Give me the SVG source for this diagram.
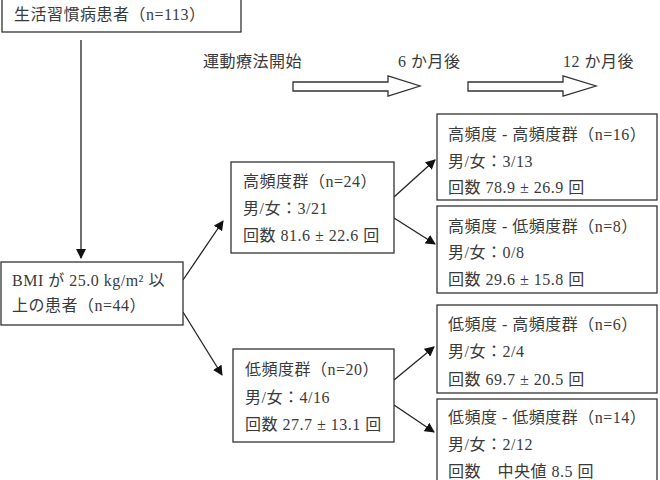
<svg xmlns="http://www.w3.org/2000/svg" width="660" height="480" viewBox="0 0 660 480">
<style>
.box{fill:#fff;stroke:#333;stroke-width:1.3}
.t{font-family:"Liberation Serif","Noto Sans CJK JP",serif;font-size:16px;letter-spacing:0.5px;fill:#3a3a3a}
.c{stroke:#222;stroke-width:1.3;fill:none}
.h{fill:#fff;stroke:#333;stroke-width:1.3}
</style>
<defs>
<marker id="ah" viewBox="0 0 10 10" refX="9" refY="5" markerWidth="10" markerHeight="10" markerUnits="userSpaceOnUse" orient="auto">
<path d="M0,0 L10,5 L0,10 z" fill="#111"/>
</marker>
</defs>
<rect width="660" height="480" fill="#fff"/>
<g id="labels">
<text class="t" x="203" y="67">運動療法開始</text>
<text class="t" x="398" y="67">6 か月後</text>
<text class="t" x="563" y="67">12 か月後</text>
<polygon class="h" points="293,82 388,82 388,76 420,86 388,96 388,91 293,91"/>
<polygon class="h" points="468,82 563,82 563,76 596,86 563,96 563,91 468,91"/>
</g>
<g id="connectors">
<line class="c" x1="81" y1="40" x2="81" y2="258" marker-end="url(#ah)"/>
<line class="c" x1="183" y1="280" x2="223" y2="221" marker-end="url(#ah)"/>
<line class="c" x1="183" y1="312" x2="222" y2="375" marker-end="url(#ah)"/>
<line class="c" x1="394" y1="197" x2="435" y2="160" marker-end="url(#ah)"/>
<line class="c" x1="394" y1="218" x2="435" y2="244" marker-end="url(#ah)"/>
<line class="c" x1="394" y1="380" x2="434" y2="347" marker-end="url(#ah)"/>
<line class="c" x1="394" y1="405" x2="434" y2="432" marker-end="url(#ah)"/>
</g>
<g id="n-all">
<rect class="box" x="2" y="-2" width="239" height="34"/>
<text class="t" x="14" y="20">生活習慣病患者（n=113）</text>
</g>
<g id="n-bmi">
<rect class="box" x="1" y="262" width="182" height="63"/>
<text class="t" x="12" y="286">BMI が 25.0 kg/m² 以</text>
<text class="t" x="12" y="311">上の患者（n=44）</text>
</g>
<g id="n-high">
<rect class="box" x="231" y="162" width="163" height="91"/>
<text class="t" x="243" y="187">高頻度群（n=24）</text>
<text class="t" x="243" y="214">男/女：3/21</text>
<text class="t" x="243" y="241">回数 81.6 ± 22.6 回</text>
</g>
<g id="n-low">
<rect class="box" x="233" y="349" width="161" height="93"/>
<text class="t" x="245" y="375">低頻度群（n=20）</text>
<text class="t" x="245" y="403">男/女：4/16</text>
<text class="t" x="245" y="430">回数 27.7 ± 13.1 回</text>
</g>
<g id="n-hh">
<rect class="box" x="437" y="114" width="220" height="86"/>
<text class="t" x="448" y="140">高頻度 - 高頻度群（n=16）</text>
<text class="t" x="448" y="167">男/女：3/13</text>
<text class="t" x="448" y="193">回数 78.9 ± 26.9 回</text>
</g>
<g id="n-hl">
<rect class="box" x="437" y="206" width="220" height="87"/>
<text class="t" x="448" y="232">高頻度 - 低頻度群（n=8）</text>
<text class="t" x="448" y="258">男/女：0/8</text>
<text class="t" x="448" y="285">回数 29.6 ± 15.8 回</text>
</g>
<g id="n-lh">
<rect class="box" x="437" y="305" width="220" height="88"/>
<text class="t" x="448" y="330">低頻度 - 高頻度群（n=6）</text>
<text class="t" x="448" y="357">男/女：2/4</text>
<text class="t" x="448" y="385">回数 69.7 ± 20.5 回</text>
</g>
<g id="n-ll">
<rect class="box" x="437" y="399" width="220" height="90"/>
<text class="t" x="448" y="423">低頻度 - 低頻度群（n=14）</text>
<text class="t" x="448" y="450">男/女：2/12</text>
<text class="t" x="448" y="477">回数　中央値 8.5 回</text>
</g>
</svg>
